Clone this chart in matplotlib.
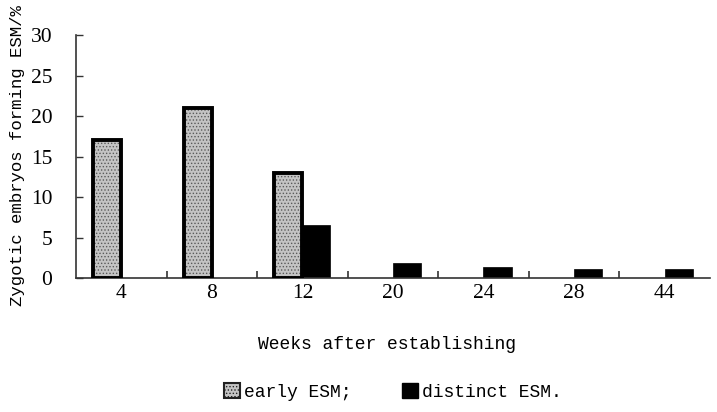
import matplotlib

matplotlib.use("Agg")
import matplotlib.pyplot as plt  # noqa: E402
import numpy as np  # noqa: E402
from matplotlib.patches import Patch  # noqa: E402

# weeks after establishing the culture
weeks = ["4", "8", "12", "20", "24", "28", "44"]
# % zygotic embryos forming embryogenic suspensor masses
early_esm = [17, 21, 13, 0, 0, 0, 0]
distinct_esm = [0, 0, 6.5, 1.9, 1.4, 1.1, 1.1]
y_ticks = [0, 5, 10, 15, 20, 25, 30]

plt.rcParams["hatch.linewidth"] = 0.6
MONO = "Liberation Mono"
SERIF = "Liberation Serif"

fig = plt.figure(figsize=(7.17, 4.12), dpi=100)
ax = fig.add_axes([0.106, 0.325, 0.884, 0.59])

xs = np.arange(len(weeks)) + 0.5
width = 0.31
early_x = xs - width / 2
dist_x = xs + width / 2

# early ESM: grey stippled fill, heavy black outline
for x, v in zip(early_x, early_esm):
    if v <= 0:
        continue
    ax.bar(x, v, width=width, color="#c4c4c4", edgecolor="#5a5a5a",
           hatch=".....", linewidth=0, zorder=2)
    ax.bar(x, v, width=width, fill=False, edgecolor="black",
           linewidth=2.8, zorder=3)

# distinct ESM: solid black
for x, v in zip(dist_x, distinct_esm):
    if v <= 0:
        continue
    ax.bar(x, v, width=width, color="black", edgecolor="black",
           linewidth=0.5, zorder=2)

ax.set_xlim(0, len(weeks))
ax.set_ylim(0, 30)
ax.set_yticks(y_ticks)
ax.set_yticklabels([str(t) for t in y_ticks], fontfamily=SERIF, fontsize=15.5)
ax.set_xticks(xs)
ax.set_xticklabels(weeks, fontfamily=SERIF, fontsize=15.5)
ax.set_xticks(np.arange(1, len(weeks)), minor=True)
ax.tick_params(axis="x", which="major", length=0, pad=4)
ax.tick_params(axis="x", which="minor", direction="in", length=5,
               width=1.2, color="#333333")
ax.tick_params(axis="y", direction="in", length=5, width=1.0,
               color="#333333", pad=17)

for side in ("top", "right"):
    ax.spines[side].set_visible(False)
for side in ("left", "bottom"):
    ax.spines[side].set_color("#333333")
    ax.spines[side].set_linewidth(1.2)

ax.set_xlabel("Weeks after establishing", fontfamily=MONO, fontsize=13,
              labelpad=24, x=0.49)
ax.set_ylabel("Zygotic embryos forming ESM/%", fontfamily=MONO, fontsize=12.5,
              va="center")
ax.yaxis.set_label_coords(-0.092, 0.505)

handles = [
    Patch(facecolor="#c4c4c4", edgecolor="#222222", hatch=".....",
          linewidth=1.5, label="early ESM;"),
    Patch(facecolor="black", edgecolor="black", label="distinct ESM."),
]
fig.legend(handles=handles, loc="center", bbox_to_anchor=(0.548, 0.048),
           ncol=2, frameon=False, handlelength=0.9, handleheight=0.9,
           handletextpad=0.2, columnspacing=2.8,
           prop={"family": MONO, "size": 13})

fig.savefig("out.png", dpi=100)
